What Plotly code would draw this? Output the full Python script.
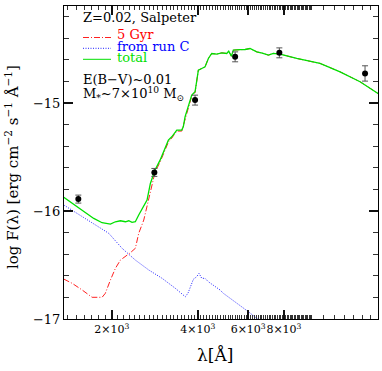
import plotly.graph_objects as go

# ---------------- data ----------------
total_wl = [1359, 1433, 1575, 1730, 1850, 1978, 2059, 2144, 2232, 2293, 2355, 2418, 2485,
            2588, 2657, 2729, 2834, 2951, 3072, 3155, 3242, 3376, 3514, 3558, 3608, 3705,
            3808, 3911, 4016, 4127, 4238, 4353, 4474, 4657, 4849, 5048, 5130, 5240, 5322,
            5618, 5849, 6089, 6427, 6720, 7059, 7345, 7752, 8869, 10698, 12572, 14765,
            17250, 18800]
total_logf = [-15.873, -15.914, -15.991, -16.068, -16.108, -16.120, -16.099, -16.090,
              -16.099, -16.090, -16.105, -16.099, -16.037, -15.960, -15.898, -15.744,
              -15.620, -15.528, -15.419, -15.343, -15.312, -15.250, -15.250, -15.219,
              -15.127, -15.034, -14.926, -14.895, -14.694, -14.679, -14.664, -14.586,
              -14.540, -14.546, -14.534, -14.540, -14.518, -14.565, -14.509, -14.505,
              -14.503, -14.494, -14.525, -14.537, -14.555, -14.539, -14.546, -14.586,
              -14.632, -14.710, -14.802, -14.918, -14.98]

old_wl = [1359, 1453, 1575, 1707, 1850, 1899, 1978, 2059, 2144, 2232, 2323, 2418, 2485,
          2588, 2657, 2729, 2805, 2834, 2951, 3072, 3155, 3242, 3376, 3514, 3608, 3705,
          3808, 3911, 4016, 4127, 4238, 4353, 4474, 4657, 4849, 5048, 5130, 5240, 5322,
          5618, 5849, 6089, 6427, 6720, 7059, 7345, 7752, 8869, 10698, 12572, 14765,
          17250, 18800]
old_logf = [-16.630, -16.669, -16.731, -16.799, -16.799, -16.762, -16.639, -16.531,
            -16.454, -16.423, -16.386, -16.345, -16.206, -16.083, -15.960, -15.836,
            -15.713, -15.639, -15.546, -15.444, -15.361, -15.324, -15.259, -15.259,
            -15.139, -15.046, -14.935, -14.903, -14.694, -14.679, -14.664, -14.586,
            -14.540, -14.546, -14.534, -14.540, -14.518, -14.565, -14.509, -14.505,
            -14.503, -14.494, -14.525, -14.537, -14.555, -14.539, -14.546, -14.586,
            -14.632, -14.710, -14.802, -14.918, -14.98]

runc_wl = [1359, 1453, 1575, 1753, 1952, 2173, 2418, 2694, 2999, 3338, 3616, 3697, 3765,
           3858, 3964, 4038, 4127, 4238, 4353, 4531, 4783, 4911, 5183, 5618, 6005, 6427,
           6871]
runc_logf = [-15.944, -15.991, -16.053, -16.130, -16.206, -16.345, -16.454, -16.546,
             -16.623, -16.716, -16.794, -16.759, -16.701, -16.632, -16.608, -16.577,
             -16.623, -16.623, -16.655, -16.685, -16.731, -16.762, -16.808, -16.870,
             -16.932, -16.994, -17.037]

obs_wl = [1528, 2818, 3911, 5400, 7710, 15370]
obs_logf = [-15.889, -15.642, -14.972, -14.571, -14.534, -14.725]
obs_err = [0.037, 0.037, 0.046, 0.046, 0.046, 0.071]

major_ticks = [2000, 4000, 6000, 8000]
major_text = ["2×10<sup>3</sup>", "4×10<sup>3</sup>", "6×10<sup>3</sup>", "8×10<sup>3</sup>"]
minor_x = [v for v in range(1400, 10001, 100) if v not in major_ticks] + \
          list(range(11000, 17001, 1000))
y_major = [-17, -16, -15]
y_minor = [round(-17 + 0.2 * i, 1) for i in range(0, 15) if (i % 5) != 0]

FONT = "DejaVu Serif, Liberation Serif, serif"
RED, BLUE, GREEN = "#ff2020", "#2020ff", "#00e000"
DASHDOT, DOT = "6px,2px,1px,2px", "1px,1.5px"
CLEAR = "rgba(255,255,255,0)"

fig = go.Figure()
fig.add_trace(go.Scatter(x=old_wl, y=old_logf, mode="lines",
                         line=dict(color=RED, width=1, dash=DASHDOT), showlegend=False))
fig.add_trace(go.Scatter(x=runc_wl, y=runc_logf, mode="lines",
                         line=dict(color=BLUE, width=1, dash=DOT), showlegend=False))
fig.add_trace(go.Scatter(x=total_wl, y=total_logf, mode="lines",
                         line=dict(color=GREEN, width=1.3), showlegend=False))
fig.add_trace(go.Scatter(x=obs_wl, y=obs_logf, mode="markers",
                         marker=dict(color="black", size=6),
                         error_y=dict(type="data", array=obs_err, color="#555555",
                                      thickness=1, width=3),
                         showlegend=False))

L, R, T, B = 64, 4, 6, 52
W, H = 382, 371
pw, ph = W - L - R, H - T - B


def px2paper(px, py):
    return (px - L) / pw, (H - B - py) / ph


annotations = []


def add_text(text, px, py, color="black", size=13, xanchor="left", angle=0):
    xp, yp = px2paper(px, py)
    annotations.append(dict(text=text, x=xp, y=yp, xref="paper", yref="paper",
                            xanchor=xanchor, yanchor="middle", showarrow=False,
                            textangle=angle, borderpad=0,
                            font=dict(family=FONT, size=size, color=color)))


add_text("Z=0.02, Salpeter", 82, 17)
add_text("5 Gyr", 116, 35, color="#ff0000")
add_text("from run C", 116, 46, color="#0000ff")
add_text("total", 116, 57, color=GREEN)
add_text("E(B−V)~0.01", 82, 80)
add_text("M<sub>*</sub>~7×10<sup>10</sup> M<sub>⊙</sub>", 82, 94)
add_text("log F(λ) [erg cm<sup>−2</sup> s<sup>−1</sup> Å<sup>−1</sup>]", 12, 167,
         size=15, xanchor="center", angle=-90)
add_text("λ[Å]", 215, 355, size=17, xanchor="center")

shapes = []
for py, col, dash in [(37.5, RED, DASHDOT), (48.3, BLUE, DOT), (59.3, GREEN, "solid")]:
    x0, y0 = px2paper(83, py)
    x1, _ = px2paper(111, py)
    shapes.append(dict(type="line", xref="paper", yref="paper", x0=x0, x1=x1, y0=y0, y1=y0,
                       line=dict(color=col, width=1, dash=dash)))

fig.update_layout(
    template="none",
    width=W, height=H, margin=dict(l=L, r=R, t=T, b=B),
    annotations=annotations, shapes=shapes,
    xaxis=dict(type="log", range=[3.134, 4.232], tickmode="array",
               tickvals=major_ticks, ticktext=major_text, tickangle=0,
               ticks="inside", ticklen=9, tickwidth=1.5, tickcolor="#111",
               showline=True, linecolor="black", mirror="ticks", gridcolor=CLEAR,
               tickfont=dict(family=FONT, size=11, color="black"),
               minor=dict(ticks="inside", ticklen=4, tickcolor="#333", tickwidth=1,
                          gridcolor=CLEAR, tickmode="array", tickvals=minor_x)),
    yaxis=dict(range=[-17.0, -14.10], tickmode="array", tickvals=y_major,
               ticks="inside", ticklen=9, tickwidth=1.5, tickcolor="#111",
               showline=True, linecolor="black", mirror="ticks", gridcolor=CLEAR,
               tickfont=dict(family=FONT, size=13, color="black"),
               minor=dict(ticks="inside", ticklen=5, tickcolor="#333", tickwidth=1,
                          gridcolor=CLEAR, tickmode="array", tickvals=y_minor)),
)

fig.write_html("out.html", config={"displayModeBar": False},
               post_script="document.body.style.margin='0';document.body.style.overflow='hidden';")
